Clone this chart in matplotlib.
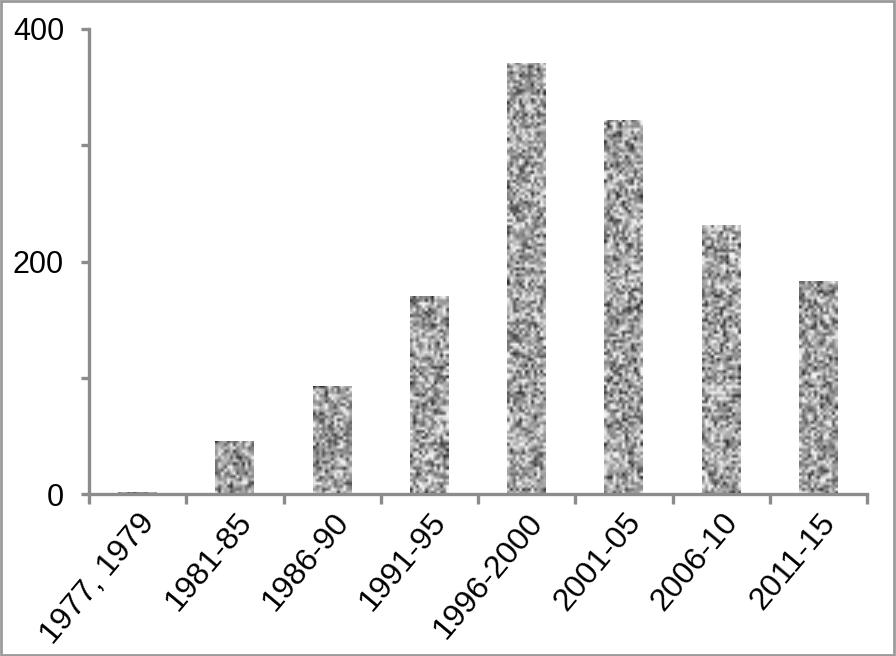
import numpy as np
import matplotlib
matplotlib.use("Agg")
import matplotlib.pyplot as plt
from matplotlib.patches import Rectangle
from matplotlib.ticker import FixedLocator

categories = ["1977, 1979", "1981-85", "1986-90", "1991-95", "1996-2000",
              "2001-05", "2006-10", "2011-15"]
values = [2, 46, 93, 170, 371, 322, 231, 183]
ytick_values = [0, 100, 200, 300, 400]
ytick_labels = ["0", "", "200", "", "400"]

plt.rcParams['font.family'] = ['Liberation Sans', 'DejaVu Sans']

fig = plt.figure(figsize=(8.96, 6.56), dpi=100)
ax = fig.add_axes([89/896, 1-494/656, (867-89)/896, (494-29)/656])

x = np.arange(len(categories))
bars = ax.bar(x, values, width=0.4, color='#a8a8a8', linewidth=0, zorder=2)

# granite texture (styling only)
rng = np.random.default_rng(7)
for b in bars:
    h = b.get_height()
    if h <= 0:
        continue
    x0 = b.get_x(); w = b.get_width()
    ny = max(2, int(h * 1.1625 / 3.0)); nx = 13
    tex = rng.normal(0.64, 0.22, size=(ny, nx))
    tex = np.clip(tex, 0.18, 0.95)
    im = ax.imshow(tex, cmap='gray', vmin=0, vmax=1, extent=[x0, x0 + w, 0, h],
                   interpolation='bilinear', aspect='auto', zorder=3)
    im.set_clip_path(b)

ax.set_xlim(-0.5, len(categories) - 0.5)
ax.set_ylim(0, 400)

spine_color = '#8c8c8c'
for s in ['top', 'right']:
    ax.spines[s].set_visible(False)
for s in ['left', 'bottom']:
    ax.spines[s].set_color(spine_color)
    ax.spines[s].set_linewidth(2.4)
    ax.spines[s].set_zorder(4)

ax.yaxis.set_major_locator(FixedLocator(ytick_values))
ax.set_yticklabels(ytick_labels)
ax.tick_params(axis='y', direction='out', length=6, width=2.4, color=spine_color,
               labelsize=22, pad=12)

ax.set_xticks(x)
ax.set_xticklabels(categories, rotation=50, ha='right', rotation_mode='anchor')
ax.tick_params(axis='x', which='major', length=0, labelsize=23, pad=10)
ax.set_xticks(np.arange(len(categories) + 1) - 0.5, minor=True)
ax.tick_params(axis='x', which='minor', direction='out', length=7, width=2.4,
               color=spine_color)

fig.patches.append(Rectangle((0.001, 0.001), 0.997, 0.997, transform=fig.transFigure,
                             fill=False, edgecolor='#9a9a9a', linewidth=2))

fig.savefig('out.png', dpi=100)
